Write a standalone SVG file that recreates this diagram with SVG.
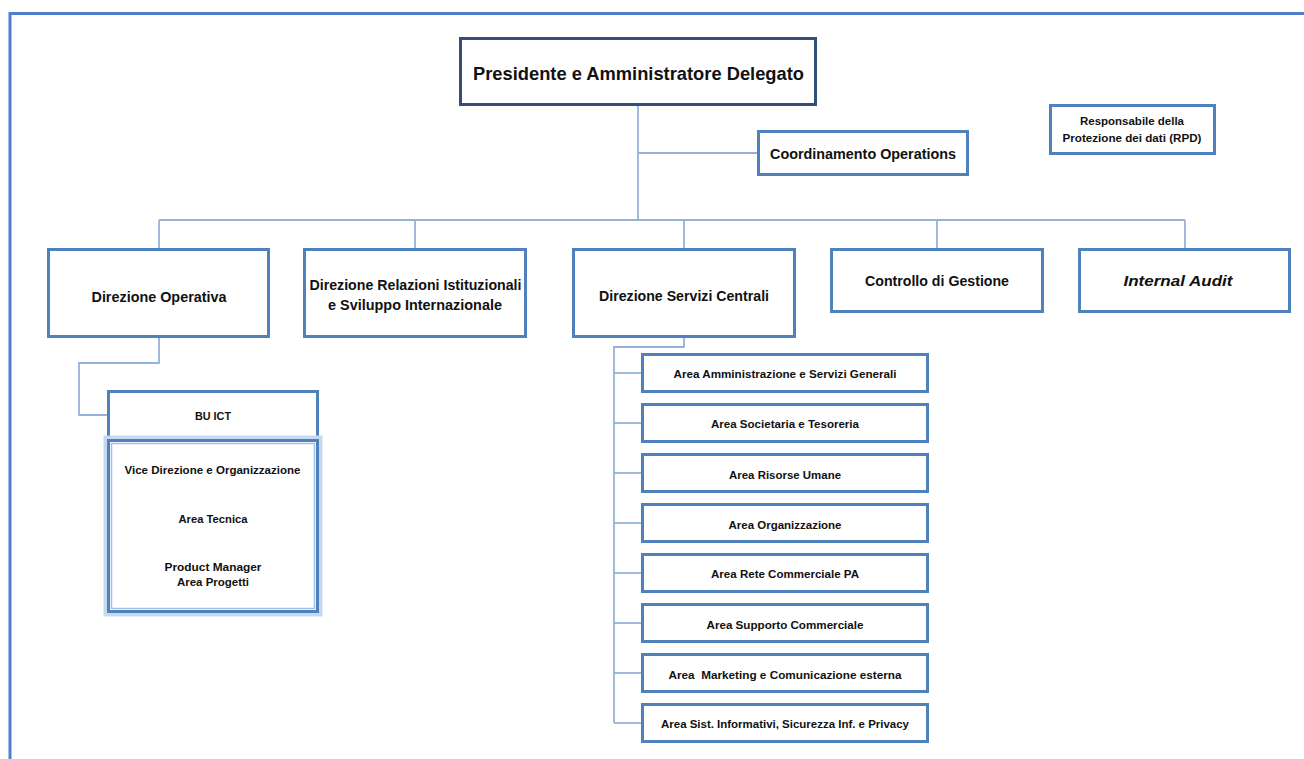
<svg xmlns="http://www.w3.org/2000/svg" width="1304" height="759" viewBox="0 0 1304 759">
  <style>
    .bg { fill: #ffffff; }
    .frame { fill: none; stroke: #4f7fd0; stroke-width: 3; }
    .box { fill: #ffffff; stroke: #4f81bd; stroke-width: 3; }
    .topbox { fill: #ffffff; stroke: #30507a; stroke-width: 3; }
    .glow { fill: none; stroke: #c6d9f0; stroke-width: 7; }
    .inner { fill: none; stroke: #a3bfe2; stroke-width: 1.5; }
    .conn { fill: none; stroke: #95b3d7; stroke-width: 1.8; }
    text { font-family: "Liberation Sans", Arial, sans-serif; font-weight: bold; fill: #111111; text-anchor: middle; }
    .t19 { font-size: 18.5px; }
    .t15 { font-size: 15px; }
    .t14 { font-size: 14.5px; }
    .t11 { font-size: 11px; }
    .t10 { font-size: 10.5px; }
    .it { font-style: italic; }
  </style>
  <rect class="bg" x="0" y="0" width="1304" height="759"/>
  <path class="frame" d="M10,759 V13.5 H1304"/>

  <g id="connectors">
    <path class="conn" d="M638,105 V220"/>
    <path class="conn" d="M638,153 H758"/>
    <path class="conn" d="M159,220 H1185"/>
    <path class="conn" d="M159,220 V249"/>
    <path class="conn" d="M415,220 V249"/>
    <path class="conn" d="M684,220 V249"/>
    <path class="conn" d="M937,220 V249"/>
    <path class="conn" d="M1185,220 V249"/>
    <path class="conn" d="M159,337 V363 H79 V415 H108"/>
    <path class="conn" d="M684,337 V347 H614 V723"/>
    <path class="conn" d="M614,373 H642"/>
    <path class="conn" d="M614,423 H642"/>
    <path class="conn" d="M614,473 H642"/>
    <path class="conn" d="M614,523 H642"/>
    <path class="conn" d="M614,573 H642"/>
    <path class="conn" d="M614,623 H642"/>
    <path class="conn" d="M614,673 H642"/>
    <path class="conn" d="M614,723 H642"/>
  </g>

  <g id="presidente">
    <rect class="topbox" x="460.5" y="38.5" width="355" height="66"/>
    <text class="t19" x="638.5" y="80" textLength="331" lengthAdjust="spacingAndGlyphs">Presidente e Amministratore Delegato</text>
  </g>

  <g id="coordinamento">
    <rect class="box" x="758.5" y="131.5" width="209" height="43"/>
    <text class="t14" x="863" y="158.5" textLength="186" lengthAdjust="spacingAndGlyphs">Coordinamento Operations</text>
  </g>

  <g id="rpd">
    <rect class="box" x="1050.5" y="105.5" width="164" height="48"/>
    <text class="t10" x="1132" y="125" textLength="104" lengthAdjust="spacingAndGlyphs">Responsabile della</text>
    <text class="t10" x="1132" y="141.5" textLength="139" lengthAdjust="spacingAndGlyphs">Protezione dei dati (RPD)</text>
  </g>

  <g id="dir-operativa">
    <rect class="box" x="48.5" y="249.5" width="220" height="87"/>
    <text class="t15" x="159" y="302" textLength="135" lengthAdjust="spacingAndGlyphs">Direzione Operativa</text>
  </g>

  <g id="dir-relazioni">
    <rect class="box" x="304.5" y="249.5" width="221" height="87"/>
    <text class="t15" x="415.5" y="290" textLength="212" lengthAdjust="spacingAndGlyphs">Direzione Relazioni Istituzionali</text>
    <text class="t15" x="415" y="309.5" textLength="174" lengthAdjust="spacingAndGlyphs">e Sviluppo Internazionale</text>
  </g>

  <g id="dir-servizi">
    <rect class="box" x="573.5" y="249.5" width="221" height="87"/>
    <text class="t15" x="684" y="301" textLength="170" lengthAdjust="spacingAndGlyphs">Direzione Servizi Centrali</text>
  </g>

  <g id="controllo">
    <rect class="box" x="831.5" y="249.5" width="211" height="62"/>
    <text class="t15" x="937" y="286" textLength="144" lengthAdjust="spacingAndGlyphs">Controllo di Gestione</text>
  </g>

  <g id="internal-audit">
    <rect class="box" x="1079.5" y="249.5" width="210" height="62"/>
    <text class="t15 it" x="1178" y="286" textLength="109" lengthAdjust="spacingAndGlyphs">Internal Audit</text>
  </g>

  <g id="bu-ict">
    <rect class="box" x="108.5" y="391.5" width="209" height="47"/>
    <text class="t11" x="213" y="420" textLength="36" lengthAdjust="spacingAndGlyphs">BU ICT</text>
  </g>

  <g id="bu-ict-aree">
    <rect class="glow" x="107" y="439" width="212" height="174"/>
    <rect class="box" x="108.5" y="440.5" width="209" height="171"/>
    <rect class="inner" x="111.5" y="443.5" width="203" height="165"/>
    <text class="t11" x="212.5" y="473.5" textLength="176" lengthAdjust="spacingAndGlyphs">Vice Direzione e Organizzazione</text>
    <text class="t11" x="213" y="522.5" textLength="69" lengthAdjust="spacingAndGlyphs">Area Tecnica</text>
    <text class="t11" x="213" y="570.5" textLength="97" lengthAdjust="spacingAndGlyphs">Product Manager</text>
    <text class="t11" x="213" y="586" textLength="72" lengthAdjust="spacingAndGlyphs">Area Progetti</text>
  </g>

  <g id="area-amministrazione">
    <rect class="box" x="642.5" y="354.5" width="285" height="37"/>
    <text class="t11" x="785" y="377.5" textLength="223" lengthAdjust="spacingAndGlyphs">Area Amministrazione e Servizi Generali</text>
  </g>
  <g id="area-societaria">
    <rect class="box" x="642.5" y="404.5" width="285" height="37"/>
    <text class="t11" x="785" y="428" textLength="148" lengthAdjust="spacingAndGlyphs">Area Societaria e Tesoreria</text>
  </g>
  <g id="area-risorse">
    <rect class="box" x="642.5" y="454.5" width="285" height="37"/>
    <text class="t11" x="785" y="478.5" textLength="112" lengthAdjust="spacingAndGlyphs">Area Risorse Umane</text>
  </g>
  <g id="area-organizzazione">
    <rect class="box" x="642.5" y="504.5" width="285" height="37"/>
    <text class="t11" x="785" y="528.5" textLength="113" lengthAdjust="spacingAndGlyphs">Area Organizzazione</text>
  </g>
  <g id="area-rete">
    <rect class="box" x="642.5" y="554.5" width="285" height="37"/>
    <text class="t11" x="785" y="578" textLength="148" lengthAdjust="spacingAndGlyphs">Area Rete Commerciale PA</text>
  </g>
  <g id="area-supporto">
    <rect class="box" x="642.5" y="604.5" width="285" height="37"/>
    <text class="t11" x="785" y="628.5" textLength="157" lengthAdjust="spacingAndGlyphs">Area Supporto Commerciale</text>
  </g>
  <g id="area-marketing">
    <rect class="box" x="642.5" y="654.5" width="285" height="37"/>
    <text class="t11" x="785" y="678.5" textLength="233" lengthAdjust="spacingAndGlyphs" style="white-space:pre" xml:space="preserve">Area  Marketing e Comunicazione esterna</text>
  </g>
  <g id="area-sistemi">
    <rect class="box" x="642.5" y="704.5" width="285" height="37"/>
    <text class="t11" x="785" y="727.5" textLength="248" lengthAdjust="spacingAndGlyphs">Area Sist. Informativi, Sicurezza Inf. e Privacy</text>
  </g>
</svg>
